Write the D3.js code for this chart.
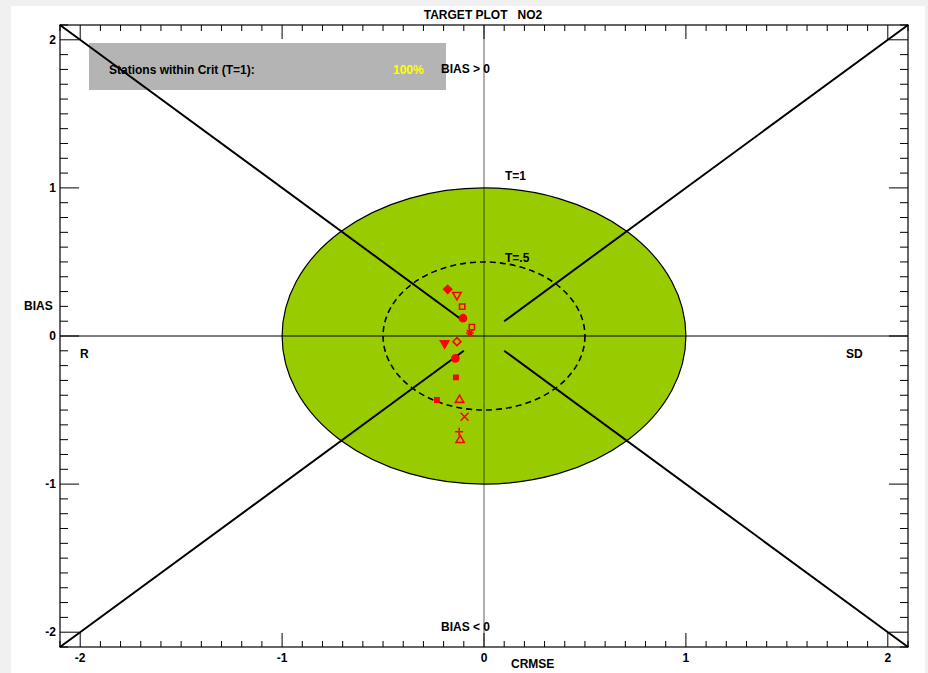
<!DOCTYPE html>
<html>
<head>
<meta charset="utf-8">
<script src="https://cdn.jsdelivr.net/npm/d3@7"></script>
<style>
  html, body { margin: 0; padding: 0; background: #f0f0f0; }
  svg { display: block; }
  text { font-family: "Liberation Sans", Arial, sans-serif; font-weight: bold; font-size: 12px; fill: #000; white-space: pre; }
</style>
</head>
<body>
<script>
// ---- data ----
const stationCRMSE = [-0.180, -0.134, -0.108, -0.104, -0.060, -0.070, -0.134, -0.195, -0.142, -0.139, -0.233, -0.121, -0.096, -0.123, -0.118];
const stationBIAS  = [ 0.315,  0.277,  0.198,  0.120,  0.060,  0.020, -0.038, -0.049, -0.151, -0.279, -0.432, -0.432, -0.545, -0.647, -0.703];
const stationSymbol = ["diamondFill", "triDownOpen", "squareOpen", "circleFill", "squareOpen", "asterisk", "diamondOpen", "triDownFill", "circleFill", "smallSquareFill", "smallSquareFill", "triUpOpen", "x", "plus", "triUpOpen"];
const axisTicks = [-2, -1, 0, 1, 2];
const targetRadii = [1, 0.5];
const targetLabels = ["T=1", "T=.5"];
const critPercent = "100%";

const W = 928, H = 673;
const svg = d3.select("body").append("svg").attr("width", W).attr("height", H);

// page panel
svg.append("rect").attr("x", 11).attr("y", 6).attr("width", 914).attr("height", 667).attr("fill", "#fff");

const x = d3.scaleLinear().domain([-2.1, 2.1]).range([60, 908]);
const y = d3.scaleLinear().domain([-2.1, 2.1]).range([647, 25]);

// legend box
svg.append("rect").attr("x", 89).attr("y", 43).attr("width", 357).attr("height", 47).attr("fill", "#b4b4b4");

// target ellipses
const rx = r => x(r) - x(0), ry = r => y(0) - y(r);
svg.append("ellipse").attr("cx", x(0)).attr("cy", y(0))
  .attr("rx", rx(targetRadii[0])).attr("ry", ry(targetRadii[0]))
  .attr("fill", "#99cc00").attr("stroke", "#000").attr("stroke-width", 1.2);
svg.append("ellipse").attr("cx", x(0)).attr("cy", y(0))
  .attr("rx", rx(targetRadii[1])).attr("ry", ry(targetRadii[1]))
  .attr("fill", "none").attr("stroke", "#000").attr("stroke-width", 1.6).attr("stroke-dasharray", "6,4");

// axes through origin
svg.append("line").attr("x1", x(-2.1)).attr("x2", x(2.1)).attr("y1", y(0)).attr("y2", y(0))
  .attr("stroke", "#000").attr("stroke-width", 1);
svg.append("line").attr("x1", x(0)).attr("x2", x(0)).attr("y1", y(2.1)).attr("y2", y(-2.1))
  .attr("stroke", "#000").attr("stroke-opacity", 0.42).attr("stroke-width", 1.5);

// diagonals
const diag = [[-2.1, 2.1, -0.1, 0.1], [2.1, 2.1, 0.1, 0.1], [-2.1, -2.1, -0.1, -0.1], [2.1, -2.1, 0.1, -0.1]];
svg.selectAll("line.diag").data(diag).enter().append("line").attr("class", "diag")
  .attr("x1", d => x(d[0])).attr("y1", d => y(d[1]))
  .attr("x2", d => x(d[2])).attr("y2", d => y(d[3]))
  .attr("stroke", "#000").attr("stroke-width", 2);

// frame & ticks
const g = svg.append("g");
const minor = d3.range(-21, 22).map(i => i / 10);
const isMajor = v => Math.abs(v - Math.round(v)) < 1e-9 && Math.abs(v) <= 2;
minor.forEach(v => {
  const lx = isMajor(v) ? 14 : 6;
  const ly = isMajor(v) ? 19 : 8;
  g.append("line").attr("x1", x(v)).attr("x2", x(v)).attr("y1", y(-2.1)).attr("y2", y(-2.1) - lx).attr("stroke", "#000");
  g.append("line").attr("x1", x(v)).attr("x2", x(v)).attr("y1", y(2.1)).attr("y2", y(2.1) + lx).attr("stroke", "#000");
  g.append("line").attr("y1", y(v)).attr("y2", y(v)).attr("x1", x(-2.1)).attr("x2", x(-2.1) + ly).attr("stroke", "#000");
  g.append("line").attr("y1", y(v)).attr("y2", y(v)).attr("x1", x(2.1)).attr("x2", x(2.1) - ly).attr("stroke", "#000");
});
g.append("rect").attr("x", x(-2.1)).attr("y", y(2.1)).attr("width", x(2.1) - x(-2.1)).attr("height", y(-2.1) - y(2.1))
  .attr("fill", "none").attr("stroke", "#000").attr("stroke-width", 1.2);

// tick labels
svg.selectAll("text.xt").data(axisTicks).enter().append("text").attr("class", "xt")
  .attr("x", d => x(d)).attr("y", y(-2.1) + 15).attr("text-anchor", "middle").text(d => d);
svg.selectAll("text.yt").data(axisTicks).enter().append("text").attr("class", "yt")
  .attr("x", x(-2.1) - 4).attr("y", d => y(d) + 4).attr("text-anchor", "end").text(d => d);

// labels
const label = (tx, ty, t, anchor, fill) => svg.append("text").attr("x", tx).attr("y", ty)
  .attr("xml:space", "preserve")
  .attr("text-anchor", anchor || "start").style("fill", fill || "#000").text(t);
label(483, 19, "TARGET PLOT   NO2", "middle");
label(441, 73, "BIAS > 0");
label(441, 631, "BIAS < 0");
label(80, 358, "R");
label(846, 358, "SD");
label(24, 310, "BIAS");
label(511, 668, "CRMSE");
label(505, 180, targetLabels[0]);
label(505, 262, targetLabels[1]);
label(109, 74, "Stations within Crit (T=1):");
label(393, 74, critPercent, "start", "#ffff00");

// station markers
const red = "#ff0000";
function symPath(type) {
  switch (type) {
    case "diamondFill": case "diamondOpen": return "M0,-4L4,0L0,4L-4,0Z";
    case "triDownOpen": case "triDownFill": case "triUpOpen": return d3.symbol(d3.symbolTriangle, 30)();
    case "squareOpen": return d3.symbol(d3.symbolSquare, 28)();
    case "smallSquareFill": return d3.symbol(d3.symbolSquare, 18)();
    case "circleFill": return d3.symbol(d3.symbolCircle, 40)();
    case "asterisk": return "M-4,0L4,0M0,-4L0,4M-3,-3L3,3M-3,3L3,-3";
    case "x": return "M-4,-4L4,4M-4,4L4,-4";
    case "plus": return "M-4,0L4,0M0,-4L0,4";
  }
  return d3.symbol(d3.symbolCircle, 30)();
}
const pts = stationCRMSE.map((v, i) => ({ cx: v, b: stationBIAS[i], t: stationSymbol[i] }));
svg.selectAll("path.st").data(pts).enter().append("path").attr("class", "st")
  .attr("d", d => symPath(d.t))
  .attr("transform", d => `translate(${x(d.cx)},${y(d.b)})` + (d.t.startsWith("triDown") ? " rotate(180)" : ""))
  .attr("fill", d => /Fill/.test(d.t) ? red : "none")
  .attr("stroke", red).attr("stroke-width", 1.6);
</script>
</body>
</html>
